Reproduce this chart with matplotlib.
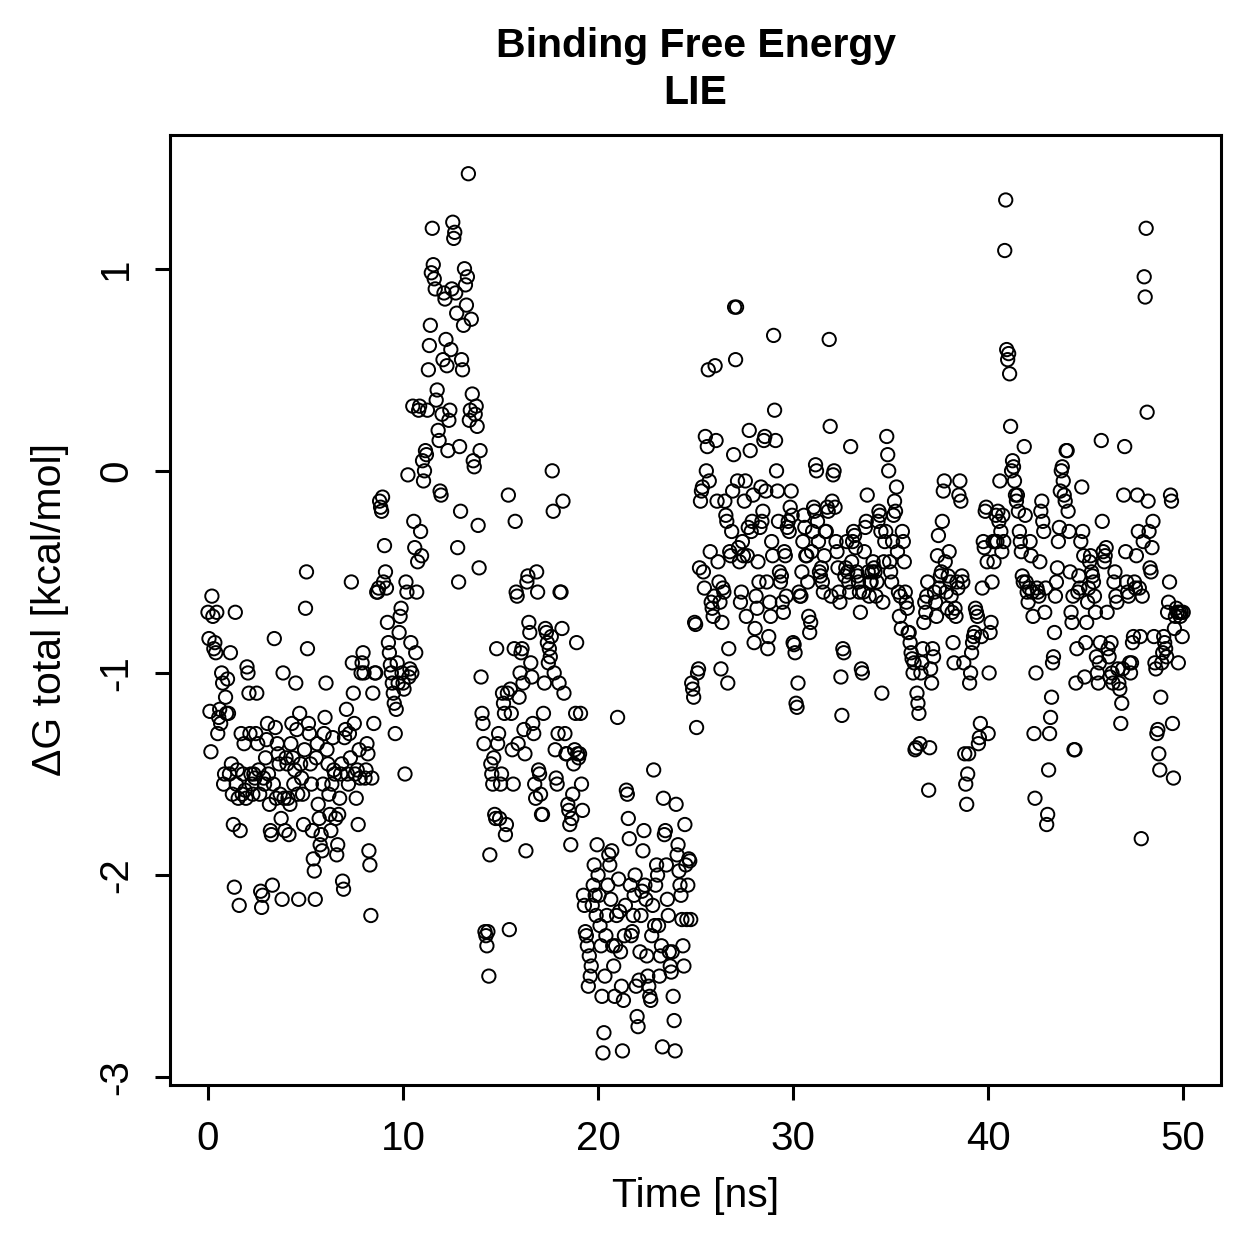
import numpy as np
import matplotlib
matplotlib.use("Agg")
import matplotlib.pyplot as plt

plt.rcParams['font.family'] = ['Liberation Sans', 'DejaVu Sans']

# dG total per ns block (20 frames per ns, 0.05 ns step)
g00 = [-0.70, -0.83, -1.19, -1.39, -0.62, -0.72, -0.88, -0.85, -0.90, -0.70,
       -1.30, -1.22, -1.18, -1.25, -1.00, -1.05, -1.55, -1.50, -1.12, -1.20]
g01 = [-1.03, -1.20, -1.50, -0.90, -1.45, -1.60, -1.75, -2.06, -0.70, -1.55,
       -1.48, -1.62, -2.15, -1.78, -1.30, -1.60, -1.50, -1.35, -1.58, -1.62]
g02 = [-0.97, -1.00, -1.10, -1.30, -1.50, -1.55, -1.60, -1.50, -1.52, -1.30,
       -1.10, -1.35, -1.48, -1.60, -2.08, -2.16, -2.10, -1.52, -1.55, -1.42]
g03 = [-1.33, -1.25, -1.50, -1.65, -1.78, -1.80, -2.05, -1.55, -0.83, -1.27,
       -1.62, -1.35, -1.40, -1.45, -1.60, -1.72, -2.12, -1.00, -1.62, -1.78]
g04 = [-1.42, -1.45, -1.62, -1.80, -1.65, -1.35, -1.25, -1.42, -1.55, -1.48,
       -1.05, -1.28, -1.60, -2.12, -1.20, -1.45, -1.52, -1.60, -1.75, -1.38]
g05 = [-0.68, -0.50, -0.88, -1.25, -1.30, -1.45, -1.55, -1.78, -1.92, -1.98,
       -2.12, -1.42, -1.35, -1.65, -1.72, -1.85, -1.80, -1.88, -1.55, -1.30]
g06 = [-1.22, -1.05, -1.38, -1.45, -1.60, -1.70, -1.78, -1.55, -1.32, -1.48,
       -1.50, -1.72, -1.90, -1.85, -1.70, -1.62, -1.50, -1.45, -2.03, -2.07]
g07 = [-1.32, -1.28, -1.18, -1.50, -1.55, -1.30, -1.42, -0.55, -0.95, -1.10,
       -1.25, -1.50, -1.62, -1.48, -1.75, -1.38, -1.52, -1.00, -0.95, -0.90]
g08 = [-1.00, -1.52, -1.48, -1.35, -1.40, -1.88, -1.95, -2.20, -1.52, -1.10,
       -1.25, -1.00, -1.00, -0.60, -0.60, -0.58, -0.15, -0.18, -0.20, -0.13]
g09 = [-0.55, -0.37, -0.50, -0.58, -0.75, -0.85, -0.90, -0.96, -1.00, -1.05,
       -1.10, -1.15, -1.30, -1.18, -0.95, -1.05, -0.80, -0.72, -0.68, -1.00]
g10 = [-1.05, -1.08, -1.50, -0.55, -0.60, -0.02, -1.02, -0.98, -0.85, -1.00,
       0.32, -0.25, -0.38, -0.90, -0.60, -0.45, 0.30, 0.32, -0.30, -0.42]
g11 = [0.05, -0.05, 0.00, 0.10, 0.08, 0.30, 0.50, 0.62, 0.72, 0.98,
       1.20, 1.02, 0.95, 0.90, 0.35, 0.40, 0.20, 0.15, -0.10, -0.12]
g12 = [0.28, 0.55, 0.88, 0.85, 0.65, 0.52, 0.10, 0.25, 0.30, 0.60,
       0.90, 1.23, 1.15, 1.18, 0.88, 0.78, -0.38, -0.55, 0.12, -0.20]
g13 = [0.55, 0.50, 0.72, 1.00, 0.92, 0.82, 0.96, 1.47, 0.25, 0.30,
       0.75, 0.38, 0.05, 0.02, 0.28, 0.32, 0.22, -0.27, -0.48, 0.10]
g14 = [-1.02, -1.20, -1.25, -1.35, -2.28, -2.30, -2.35, -2.28, -2.50, -1.90,
       -1.45, -1.50, -1.55, -1.42, -1.70, -1.72, -0.88, -1.35, -1.30, -1.72]
g15 = [-1.55, -1.50, -1.10, -1.15, -1.20, -1.80, -1.75, -1.10, -0.12, -2.27,
       -1.08, -1.20, -1.38, -1.55, -0.88, -0.25, -0.60, -0.62, -1.35, -1.12]
g16 = [-1.00, -0.90, -0.88, -1.05, -1.28, -1.40, -1.88, -0.55, -0.52, -0.75,
       -0.80, -0.95, -1.02, -1.25, -1.30, -1.55, -1.62, -0.50, -0.60, -1.48]
g17 = [-1.50, -1.60, -1.70, -1.70, -1.20, -1.05, -0.78, -0.80, -0.85, -0.95,
       -0.88, -0.92, -0.82, -0.00, -0.20, -1.00, -1.38, -1.52, -1.55, -1.30]
g18 = [-1.05, -0.60, -0.60, -0.78, -0.15, -1.10, -1.30, -1.40, -1.40, -1.65,
       -1.68, -1.75, -1.85, -1.72, -1.60, -1.45, -1.38, -1.20, -0.85, -1.40]
g19 = [-1.42, -1.40, -1.20, -1.55, -1.68, -2.10, -2.15, -2.28, -2.30, -2.35,
       -2.55, -2.40, -2.50, -2.45, -2.15, -2.05, -1.95, -2.10, -2.20, -1.85]
g20 = [-2.00, -2.10, -2.25, -2.35, -2.60, -2.88, -2.78, -2.50, -2.30, -2.20,
       -2.05, -1.90, -1.95, -2.12, -1.88, -2.35, -2.45, -2.60, -2.35, -2.20]
g21 = [-1.22, -2.02, -2.18, -2.38, -2.55, -2.87, -2.62, -2.30, -2.15, -1.58,
       -1.60, -1.72, -1.82, -2.05, -2.30, -2.28, -2.20, -2.10, -2.00, -2.55]
g22 = [-2.70, -2.75, -2.52, -2.38, -2.20, -2.08, -1.88, -1.78, -2.05, -2.12,
       -2.40, -2.50, -2.55, -2.60, -2.62, -2.30, -2.15, -1.48, -2.25, -2.05]
g23 = [-1.95, -2.00, -2.25, -2.50, -2.40, -2.35, -2.85, -1.62, -1.80, -1.78,
       -1.95, -2.12, -2.20, -2.38, -2.45, -2.48, -2.38, -2.60, -2.72, -2.87]
g24 = [-1.65, -1.90, -1.85, -1.98, -2.05, -2.10, -2.22, -2.35, -2.45, -1.75,
       -1.95, -2.22, -2.05, -1.92, -1.93, -2.22, -1.05, -1.08, -1.12, -0.75]
g25 = [-0.76, -1.27, -1.00, -0.98, -0.48, -0.15, -0.10, -0.08, -0.50, -0.58,
       0.17, 0.00, 0.12, 0.50, -0.05, -0.40, -0.65, -0.68, -0.72, -0.62]
g26 = [0.52, 0.15, -0.15, -0.45, -0.55, -0.65, -0.98, -0.75, -0.58, -0.60,
       -0.15, -0.22, -0.25, -1.05, -0.88, -0.40, -0.42, -0.30, -0.10, 0.08]
g27 = [0.81, 0.55, 0.81, -0.05, -0.38, -0.45, -0.65, -0.60, -0.35, -0.42,
       -0.15, -0.05, -0.72, -0.42, -0.28, 0.20, 0.10, -0.30, -0.25, -0.12]
g28 = [-0.85, -0.78, -0.62, -0.68, -0.45, -0.55, -0.28, -0.08, -0.25, -0.20,
       0.15, 0.17, -0.10, -0.55, -0.88, -0.82, -0.65, -0.72, -0.35, -0.42]
g29 = [0.67, 0.30, 0.15, 0.00, -0.10, -0.25, -0.50, -0.55, -0.52, -0.65,
       -0.70, -0.40, -0.42, -0.62, -0.28, -0.25, -0.30, -0.18, -0.10, -0.22]
g30 = [-0.85, -0.86, -0.90, -1.15, -1.17, -1.05, -0.60, -0.62, -0.62, -0.50,
       -0.35, -0.22, -0.28, -0.42, -0.42, -0.55, -0.72, -0.80, -0.75, -0.40]
g31 = [-0.30, -0.18, -0.20, 0.03, 0.00, -0.25, -0.35, -0.50, -0.52, -0.48,
       -0.55, -0.60, -0.42, -0.30, -0.30, -0.18, -0.20, 0.65, 0.22, -0.62]
g32 = [-0.15, -0.02, 0.00, -0.18, -0.35, -0.40, -0.48, -0.60, -0.65, -1.02,
       -1.21, -0.88, -0.90, -0.52, -0.48, -0.35, -0.50, -0.55, -0.60, 0.12]
g33 = [-0.45, -0.35, -0.30, -0.32, -0.38, -0.50, -0.52, -0.55, -0.60, -0.70,
       -0.98, -1.00, -0.60, -0.40, -0.28, -0.25, -0.12, -0.50, -0.62, -0.55]
g34 = [-0.55, -0.50, -0.45, -0.48, -0.50, -0.62, -0.55, -0.25, -0.20, -0.22,
       -0.30, -1.10, -0.65, -0.45, -0.35, -0.30, 0.17, 0.08, 0.00, -0.45]
g35 = [-0.50, -0.55, -0.35, -0.22, -0.15, -0.20, -0.08, -0.40, -0.60, -0.72,
       -0.62, -0.78, -0.30, -0.35, -0.45, -0.60, -0.65, -0.68, -0.80, -0.80]
g36 = [-0.85, -0.90, -0.93, -1.00, -0.95, -1.38, -1.37, -1.10, -1.15, -1.20,
       -1.35, -1.00, -0.95, -0.88, -0.75, -0.65, -0.70, -0.62, -0.55, -1.58]
g37 = [-1.37, -0.98, -1.05, -0.88, -0.92, -0.60, -0.65, -0.72, -0.42, -0.32,
       -0.58, -0.52, -0.50, -0.25, -0.10, -0.05, -0.45, -0.60, -0.68, -0.52]
g38 = [-0.40, -0.55, -0.62, -0.70, -0.85, -0.95, -0.68, -0.72, -0.55, -0.58,
       -0.12, -0.05, -0.15, -0.52, -0.55, -0.95, -1.40, -1.55, -1.65, -1.50]
g39 = [-1.40, -1.05, -1.00, -0.90, -0.85, -0.82, -0.80, -0.68, -0.70, -0.72,
       -1.35, -1.32, -1.25, -0.82, -0.58, -0.35, -0.38, -0.20, -0.18, -0.45]
g40 = [-1.30, -1.00, -0.80, -0.75, -0.55, -0.35, -0.45, -0.35, -0.22, -0.35,
       -0.20, -0.25, -0.05, -0.30, -0.40, -0.22, -0.35, 1.09, 1.34, 0.60]
g41 = [0.55, 0.58, 0.48, 0.22, 0.00, 0.05, 0.02, -0.05, -0.12, -0.15,
       -0.12, -0.20, -0.30, -0.35, -0.40, -0.52, -0.55, 0.12, -0.22, -0.55]
g42 = [-0.60, -0.65, -0.58, -0.35, -0.42, -0.60, -0.72, -1.30, -1.62, -1.00,
       -0.58, -0.60, -0.62, -0.45, -0.20, -0.15, -0.25, -0.30, -0.70, -0.58]
g43 = [-1.75, -1.70, -1.48, -1.30, -1.22, -1.12, -0.95, -0.92, -0.80, -0.62,
       -0.55, -0.48, -0.35, -0.28, -0.10, 0.00, 0.02, -0.05, -0.12, -0.15]
g44 = [0.10, 0.10, -0.20, -0.30, -0.50, -0.70, -0.75, -0.62, -1.38, -1.38,
       -1.05, -0.88, -0.60, -0.52, -0.58, -0.35, -0.08, -0.30, -0.42, -1.02]
g45 = [-0.85, -0.75, -0.65, -0.58, -0.45, -0.42, -0.50, -0.52, -0.55, -0.62,
       -0.70, -0.92, -1.00, -1.05, -0.95, -0.85, 0.15, -0.25, -0.40, -0.45]
g46 = [-0.42, -0.38, -0.70, -0.88, -0.92, -1.02, -0.85, -1.00, -1.05, -0.55,
       -0.50, -0.62, -0.65, -0.98, -1.05, -1.08, -1.25, -1.15, -0.98, -0.12]
g47 = [0.12, -0.40, -0.55, -0.60, -0.62, -0.95, -1.00, -0.95, -0.85, -0.82,
       -0.55, -0.58, -0.42, -0.12, -0.30, -0.58, -0.82, -1.82, -0.62, -0.35]
g48 = [0.96, 0.86, 1.20, 0.29, -0.15, -0.30, -0.48, -0.50, -0.38, -0.25,
       -0.82, -0.95, -0.98, -1.30, -1.28, -1.40, -1.48, -1.12, -0.95, -0.90]
g49 = [-0.82, -0.85, -0.88, -0.92, -0.70, -0.65, -0.55, -0.12, -0.15, -1.25,
       -1.52, -0.78, -0.72, -0.68, -0.70, -0.95, -0.70, -0.72, -0.70, -0.82,
       -0.70]

blocks = [g00, g01, g02, g03, g04, g05, g06, g07, g08, g09,
          g10, g11, g12, g13, g14, g15, g16, g17, g18, g19,
          g20, g21, g22, g23, g24, g25, g26, g27, g28, g29,
          g30, g31, g32, g33, g34, g35, g36, g37, g38, g39,
          g40, g41, g42, g43, g44, g45, g46, g47, g48, g49]
dG = np.concatenate([np.array(b) for b in blocks])
time = np.arange(len(dG)) * 0.05

xticks = [0, 10, 20, 30, 40, 50]
yticks = [-3, -2, -1, 0, 1]

fig = plt.figure(figsize=(12.59, 12.59), dpi=100)
ax = fig.add_axes([0.135, 0.138, 0.835, 0.755])

ax.scatter(time, dG, s=92, facecolors='none', edgecolors='black', linewidths=1.4)

ax.set_xlim(-1.95, 51.95)
ax.set_ylim(-3.04, 1.663)

for s in ax.spines.values():
    s.set_linewidth(2.2)

ax.set_xticks(xticks)
ax.set_yticks(yticks)
ax.set_yticklabels([str(v) for v in yticks], rotation=90, va='center')
ax.tick_params(direction='out', length=11, width=2.2, labelsize=29, pad=14)

ax.set_xlabel('Time [ns]', fontsize=29.5, labelpad=14)
ax.set_ylabel('ΔG total [kcal/mol]', fontsize=29.5, labelpad=20)
ax.set_title('Binding Free Energy\nLIE', fontsize=29.5, fontweight='bold', pad=22,
             linespacing=1.3)

fig.savefig('out.png', dpi=100)
